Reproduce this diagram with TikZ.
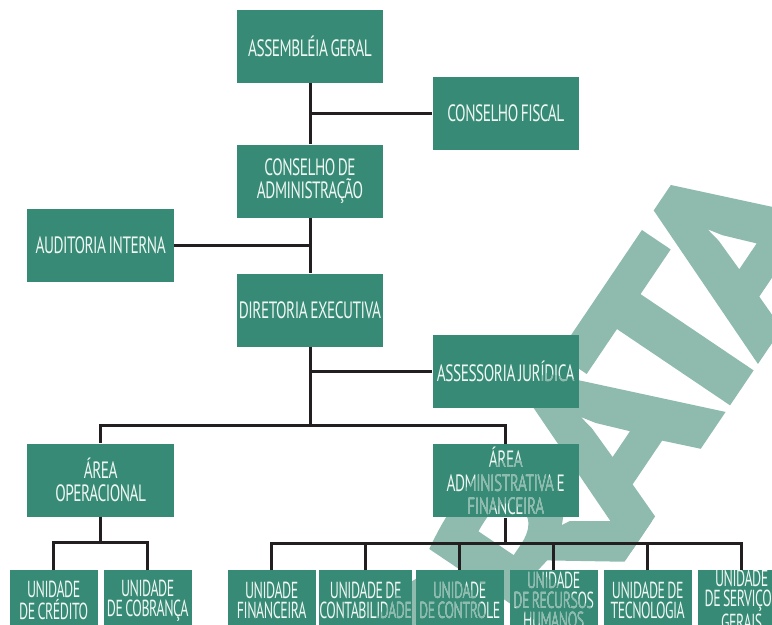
\documentclass[tikz,border=0pt]{standalone}
\usepackage{fontspec}
\setmainfont{PT Sans}[FakeStretch=0.65, LetterSpace=-2, WordSpace=0.7]
\newfontfamily\unitfont{PT Sans}[FakeStretch=0.60, LetterSpace=-2, WordSpace=0.7]
\newfontfamily\markfont{PT Sans}[FakeStretch=1.12, FakeBold=2.5, LetterSpace=-9]
\usetikzlibrary{positioning, calc}
\definecolor{boxgreen}{HTML}{378A76}
\definecolor{boxtext}{HTML}{EEF7F2}
\definecolor{marktint}{HTML}{8FBBAF}
\definecolor{linedark}{HTML}{231F20}

\begin{document}
\begin{tikzpicture}[x=1pt, y=1pt]
  \tikzstyle{orgbox} = [rectangle, fill=boxgreen, text=boxtext, align=center, inner sep=0pt, minimum width=73.25pt, minimum height=36.5pt, font=\fontsize{11.8}{11.75}\selectfont]
  \tikzstyle{unitbox} = [orgbox, minimum width=44pt, minimum height=30pt, node distance=47pt, font=\unitfont\fontsize{11.6}{10}\selectfont]
  \tikzstyle{link} = [draw=linedark, line width=1.5pt]
  \useasboundingbox (0,0) rectangle (386,-312.5);

  \node (ag) [orgbox] at (155,-23.25) {ASSEMBLÉIA GERAL};
  \node (cda) [orgbox, below=30.5pt of ag] {CONSELHO DE\\ADMINISTRAÇÃO};
  \node (de) [orgbox, below=27.5pt of cda] {DIRETORIA EXECUTIVA};
  \node (cf) [orgbox, right=24.25pt of ag, yshift=-33.5pt] {CONSELHO FISCAL};
  \node (ai) [orgbox, left=31pt of cda, yshift=-32pt] {AUDITORIA INTERNA};
  \node (aj) [orgbox, right=24.25pt of de, yshift=-30.5pt] {ASSESSORIA JURÍDICA};
  \node (ao) [orgbox, below=80.5pt of ai] {ÁREA\\OPERACIONAL};
  \node (aaf) [orgbox, below=18pt of aj] {ÁREA\\ADMINISTRATIVA E\\FINANCEIRA};

  \node (ucr) [unitbox, below=26.5pt of ao, xshift=-23.5pt] {UNIDADE\\DE CRÉDITO};
  \node (ucb) [unitbox, right of=ucr] {UNIDADE\\DE COBRANÇA};
  \node (ufi) [unitbox, right of=ucb, xshift=15pt] {UNIDADE\\FINANCEIRA};
  \node (uct) [unitbox, right of=ufi] {UNIDADE DE\\CONTABILIDADE};
  \node (ucn) [unitbox, right of=uct] {UNIDADE\\DE CONTROLE};
  \node (urh) [unitbox, right of=ucn] {UNIDADE\\DE RECURSOS\\HUMANOS};
  \node (ute) [unitbox, right of=urh] {UNIDADE DE\\TECNOLOGIA};
  \node (usg) [unitbox, right of=ute] {UNIDADE\\DE SERVIÇOS\\GERAIS};

  \coordinate (topbus) at ($(de.south)+(0,-39.5)$);
  \coordinate (opbus) at ($(ao.south)+(0,-13)$);
  \coordinate (admbus) at ($(aaf.south)+(0,-13)$);

  \draw[link] (ag) -- (cda);
  \draw[link] (cf.west) -- (cf.west -| ag.south);
  \draw[link] (cda) -- (de);
  \draw[link] (ai.east) -- (ai.east -| cda.south);
  \draw[link] (aj.west) -- (aj.west -| de.south);
  \draw[link] (de.south) -- (topbus);
  \draw[link] (ao.north) |- (topbus) -| (aaf.north);
  \draw[link] (ao.south) -- (opbus);
  \draw[link] (ucr.north) |- (opbus) -| (ucb.north);
  \draw[link] (aaf.south) -- (admbus);
  \draw[link] (ufi.north) |- (admbus) -| (usg.north);
  \draw[link] (uct.north) -- (uct.north |- admbus);
  \draw[link] (ucn.north) -- (ucn.north |- admbus);
  \draw[link] (urh.north) -- (urh.north |- admbus);
  \draw[link] (ute.north) -- (ute.north |- admbus);

  \begin{scope}[blend mode=darken]
    \clip (0,0) rectangle (386,-312.5);
    \node (mark) [rotate=56, text=marktint, font=\markfont\bfseries\fontsize{118}{118}\selectfont] at (281.4,-249.1) {ERRATA};
  \end{scope}
\end{tikzpicture}
\end{document}
